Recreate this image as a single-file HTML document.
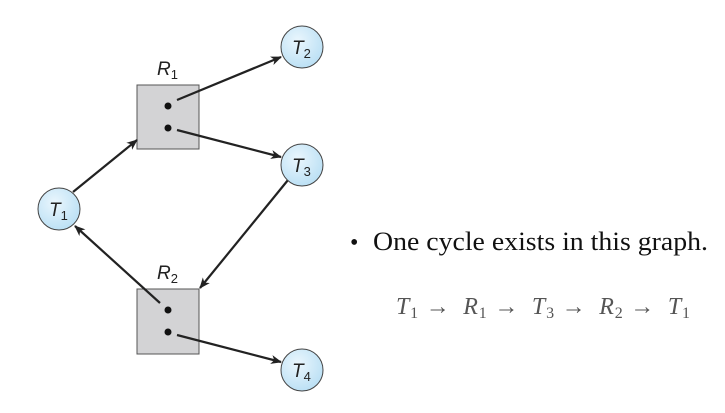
<!DOCTYPE html>
<html><head><meta charset="utf-8"><style>
html,body{margin:0;padding:0;background:#fff;}
body{width:725px;height:413px;position:relative;overflow:hidden;}
</style></head><body>
<svg width="725" height="413" viewBox="0 0 725 413" style="position:absolute;left:0;top:0">
<defs>
<radialGradient id="g" cx="0.4" cy="0.35" r="0.7"><stop offset="0" stop-color="#eaf6fd"/><stop offset="1" stop-color="#b9dff4"/></radialGradient>
<marker id="a" markerWidth="11" markerHeight="9" refX="10" refY="4.5" orient="auto" markerUnits="userSpaceOnUse"><path d="M0,0 L11,4.5 L0,9 L3,4.5 Z" fill="#222"/></marker>
</defs>
<rect x="137" y="85" width="62" height="64" fill="#d3d3d5" stroke="#555" stroke-width="1"/>
<rect x="137" y="289" width="62" height="65" fill="#d3d3d5" stroke="#555" stroke-width="1"/>
<circle cx="168" cy="106" r="3.5" fill="#111"/>
<circle cx="168" cy="128" r="3.5" fill="#111"/>
<circle cx="168" cy="310" r="3.5" fill="#111"/>
<circle cx="168" cy="332" r="3.5" fill="#111"/>
<g stroke="#222" stroke-width="2.2" fill="none" marker-end="url(#a)">
<line x1="73" y1="192" x2="137" y2="140"/>
<line x1="177" y1="100" x2="281" y2="57"/>
<line x1="177" y1="130" x2="281" y2="157"/>
<line x1="288" y1="180" x2="200" y2="288"/>
<line x1="160" y1="303" x2="75" y2="226"/>
<line x1="177" y1="335" x2="281" y2="362"/>
</g>
<g stroke="#444" stroke-width="1" fill="url(#g)">
<circle cx="302" cy="47" r="21"/>
<circle cx="302" cy="165" r="21"/>
<circle cx="59" cy="209" r="21"/>
<circle cx="302" cy="370" r="21"/>
</g>
<g font-family="Liberation Sans, sans-serif" font-style="italic" font-size="19" fill="#222">
<text x="292" y="54">T<tspan font-style="normal" font-size="13" dy="4">2</tspan></text>
<text x="292" y="172">T<tspan font-style="normal" font-size="13" dy="4">3</tspan></text>
<text x="49" y="216">T<tspan font-style="normal" font-size="13" dy="4">1</tspan></text>
<text x="292" y="377">T<tspan font-style="normal" font-size="13" dy="4">4</tspan></text>
<text x="157" y="75">R<tspan font-style="normal" font-size="13" dy="4">1</tspan></text>
<text x="157" y="279">R<tspan font-style="normal" font-size="13" dy="4">2</tspan></text>
</g>
<g font-family="Liberation Serif, serif" fill="#111">
<text x="350" y="250" font-size="24">•</text>
<text x="373" y="250" font-size="26" textLength="335" lengthAdjust="spacingAndGlyphs">One cycle exists in this graph.</text>
</g>
<g font-family="Liberation Serif, serif" font-size="24" fill="#555">
<text x="396" y="314" textLength="294" lengthAdjust="spacing"><tspan font-style="italic">T</tspan><tspan font-size="16" dy="4">1</tspan><tspan dy="-4"> → </tspan><tspan font-style="italic" dx="6">R</tspan><tspan font-size="16" dy="4">1</tspan><tspan dy="-4"> → </tspan><tspan font-style="italic" dx="6">T</tspan><tspan font-size="16" dy="4">3</tspan><tspan dy="-4"> → </tspan><tspan font-style="italic" dx="6">R</tspan><tspan font-size="16" dy="4">2</tspan><tspan dy="-4"> → </tspan><tspan font-style="italic" dx="6">T</tspan><tspan font-size="16" dy="4">1</tspan></text>
</g>
</svg>
</body></html>
